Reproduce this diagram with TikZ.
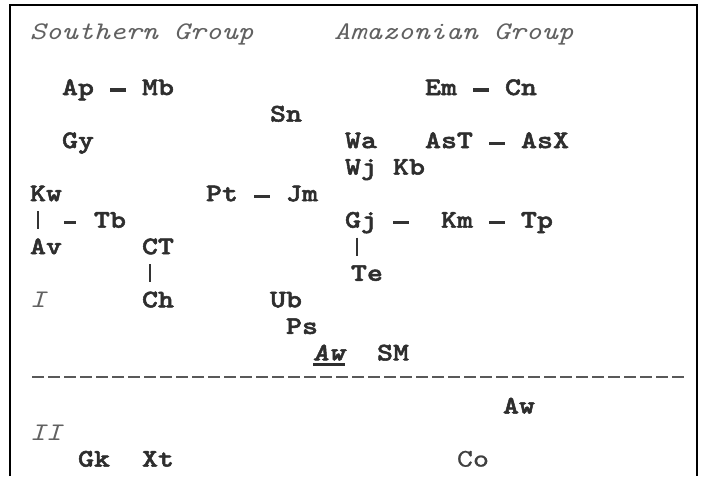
\documentclass[tikz,border=0pt]{standalone}
\usepackage{fontspec}
\newfontfamily\cbold{lmmonolt10-bold.otf}[FakeStretch=1.203,FakeBold=2]
\newfontfamily\cital{lmmono10-italic.otf}[FakeStretch=1.203]
\newfontfamily\cbit{lmmonolt10-boldoblique.otf}[FakeStretch=1.203,FakeBold=2]
\newfontfamily\creg{lmmono10-regular.otf}[FakeStretch=1.203,FakeBold=0.8]
\usetikzlibrary{calc}
\begin{document}
\begin{tikzpicture}[x=0.75pt,y=-0.75pt,
  every node/.style={inner sep=0pt,outer sep=0pt,anchor=base west,text height=11.25pt,text depth=3.75pt},
  code/.style={font={\fontsize{19}{23}\selectfont\cbold},text=black!82},
  hdr/.style={font={\fontsize{19}{23}\selectfont\cital},text=black!62},
  itcode/.style={font={\fontsize{19}{23}\selectfont\cbit},text=black!82},
  regcode/.style={font={\fontsize{19}{23}\selectfont\creg},text=black!75},
  hlink/.style={line width=2.3pt,draw=black!80,shorten <=12pt,shorten >=12pt},
  vlink/.style={line width=2.1pt,draw=black!80,shorten <=3.75pt,shorten >=7.5pt},
  frame/.style={line width=1.5pt,draw=black},
  sepline/.style={line width=1.6pt,draw=black!65,dash pattern=on 9pt off 3pt},
  uline/.style={line width=2.2pt,draw=black!82}]
\useasboundingbox (0,0) rectangle (719,476);
\draw[frame] (10,476) -- (10,5) -- (697,5) -- (697,476);
% headers
\node[hdr] (hs) at (30,39) {Southern Group};
\node[hdr] (ha) at (334,39) {Amazonian Group};
% line 2
\node[code] (ap) at (62,95) {Ap};
\node[code] (mb) at (142,95) {Mb};
\node[code] (em) at (425,95) {Em};
\node[code] (cn) at (505,95) {Cn};
% line 3
\node[code] (sn) at (270,121.5) {Sn};
% line 4
\node[code] (gy) at (62,148.1) {Gy};
\node[code] (wa) at (345,148.1) {Wa};
\node[code] (ast) at (425,148.1) {AsT};
\node[code] (asx) at (521,148.1) {AsX};
% line 5
\node[code] (wj) at (345,174.6) {Wj};
\node[code] (kb) at (393,174.6) {Kb};
% line 6
\node[code] (kw) at (30,201.2) {Kw};
\node[code] (pt) at (206,201.2) {Pt};
\node[code] (jm) at (286,201.2) {Jm};
% line 7
\node[code] (tb) at (94,227.7) {Tb};
\node[code] (gj) at (345,227.7) {Gj};
\node[code] (km) at (441,227.7) {Km};
\node[code] (tp) at (521,227.7) {Tp};
% line 8
\node[code] (av) at (30,254.2) {Av};
\node[code] (ct) at (142,254.2) {CT};
% line 9
\node[code] (te) at (351,280.8) {Te};
% line 10
\node[hdr] (r1) at (30,307.3) {I};
\node[code] (ch) at (142,307.3) {Ch};
\node[code] (ub) at (270,307.3) {Ub};
% line 11
\node[code] (ps) at (286,333.9) {Ps};
% line 12
\node[itcode] (aw1) at (313,360.4) {Aw};
\node[code] (sm) at (377,360.4) {SM};
% line 14
\node[code] (aw2) at (503,413.5) {Aw};
% line 15
\node[hdr] (r2) at (30,440) {II};
% line 16
\node[code] (gk) at (78,466.6) {Gk};
\node[code] (xt) at (142,466.6) {Xt};
\node[regcode] (co) at (457,466.6) {Co};
% horizontal links
\draw[hlink] (ap.east) -- (mb.west);
\draw[hlink] (em.east) -- (cn.west);
\draw[hlink] (ast.east) -- (asx.west);
\draw[hlink] (pt.east) -- (jm.west);
\draw[hlink] (km.east) -- (tp.west);
\draw[hlink,shorten >=24pt] (gj.east) -- (km.west);
% vertical links
\coordinate (kwbar) at ([xshift=6pt]kw.south west);
\draw[vlink] (kwbar) -- (kwbar |- av.north);
\draw[hlink,shorten <=19.5pt,shorten >=13.5pt] (kwbar |- tb.west) -- (tb.west);
\coordinate (ctbar) at ([xshift=6pt]ct.south west);
\draw[vlink] (ctbar) -- (ctbar |- ch.north);
\coordinate (gjbar) at ([xshift=9pt]gj.south west);
\draw[vlink] (gjbar) -- (gjbar |- te.north);
% separator
\coordinate (sepL) at (32,377);
\coordinate (sepR) at (684,377);
\draw[sepline] (sepL) -- (sepR);
% underline
\draw[uline] ([yshift=-3pt]aw1.base west) -- ([yshift=-3pt]aw1.base east);
\end{tikzpicture}
\end{document}
